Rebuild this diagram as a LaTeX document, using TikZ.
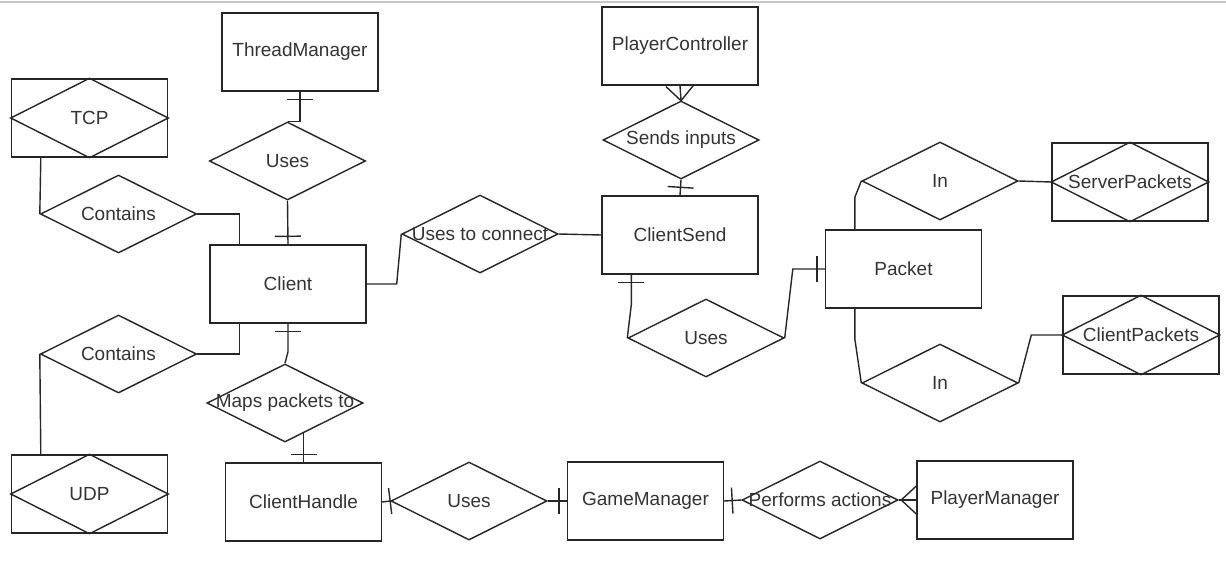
\documentclass[tikz,border=0pt]{standalone}
\usepackage{fontspec}
\setmainfont{Liberation Sans}
\usetikzlibrary{shapes.geometric,decorations.markings,calc}

\tikzset{
  entity/.style={draw, minimum width=78pt, minimum height=39pt, inner sep=0pt},
  rel/.style={diamond, draw, minimum width=78pt, minimum height=39pt, inner sep=0pt},
  one start/.style={postaction={decorate, decoration={markings,
      mark=at position 4pt with {\draw (0,-6.5pt) -- (0,6.5pt);}}}},
  one end/.style={postaction={decorate, decoration={markings,
      mark=at position -4pt with {\draw (0,-6.5pt) -- (0,6.5pt);}}}},
  many end/.style={postaction={decorate, decoration={markings,
      mark=at position -0.01pt with {\draw (0,-7pt) -- (-7.5pt,0) -- (0,7pt);}}}}
}

\begin{document}
\begin{tikzpicture}[x=0.5pt, y=-0.5pt, line width=0.7pt, color=black!85, text=black!80,
    font=\fontsize{9.5}{11}\selectfont]
    \useasboundingbox (0,0) rectangle (1226,573);
    \draw[gray!45, line width=1pt] (0,1.5) -- (1226,1.5);

    % entities
    \node[entity] (threadmgr) at (300,52) {ThreadManager};
    \node[entity] (client) at (288,284) {Client};
    \node[entity] (clienthandle) at (303.5,502) {ClientHandle};
    \node[entity] (gamemgr) at (645.5,501) {GameManager};
    \node[entity] (playermgr) at (995,500) {PlayerManager};
    \node[entity] (playerctrl) at (680,46) {PlayerController};
    \node[entity] (clientsend) at (680,235) {ClientSend};
    \node[entity] (packet) at (903.5,269) {Packet};

    % boxes with a diamond inside
    \node[entity] (tcp) at (89.5,118) {TCP};
    \node[entity] (udp) at (89.5,494) {UDP};
    \node[entity] (srvpk) at (1130,182) {ServerPackets};
    \node[entity] (clipk) at (1141,335) {ClientPackets};
    \foreach \n in {tcp,udp,srvpk,clipk}
        \draw (\n.west) -- (\n.north) -- (\n.east) -- (\n.south) -- cycle;

    % relationships
    \node[rel, label=center:Uses] (usesTM) at (287.5,161) {};
    \node[rel, label=center:Contains] (containsTCP) at (118.5,214) {};
    \node[rel, label=center:Contains] (containsUDP) at (118.5,354) {};
    \node[rel, label=center:{Maps packets to}] (maps) at (285,403) {};
    \node[rel, label=center:Uses] (usesGM) at (469,501) {};
    \node[rel, label=center:{Performs actions}] (performs) at (820,500) {};
    \node[rel, label=center:{Sends inputs}] (sends) at (681,140) {};
    \node[rel, label=center:{Uses to connect}] (connect) at (480,234) {};
    \node[rel, label=center:Uses] (usesPk) at (706,338) {};
    \node[rel, label=center:In] (inSrv) at (940,181) {};
    \node[rel, label=center:In] (inCli) at (940,383) {};

    % links around Client
    \draw[one start] (threadmgr.south) |- (usesTM.north);
    \draw[one end] (usesTM.south) -- (client.north);
    \draw ($(tcp.south west)+(30,0)$) -- (containsTCP.west);
    \draw (containsTCP.east) -| ($(client.north west)+(30,0)$);
    \draw (containsUDP.east) -| ($(client.south west)+(30,0)$);
    \draw (containsUDP.west) -- ($(udp.north west)+(30,0)$);
    \draw[one start] (client.south) -- ++(0,28) -- (maps.north);
    \draw[one end] (clienthandle.north |- maps.-59) -- (clienthandle.north);
    \draw (client.east) -- ++(30,0) -- (connect.west);

    % bottom row
    \draw[one start] (clienthandle.east) -- (usesGM.west);
    \draw[one end] (usesGM.east) -- (gamemgr.west);
    \draw[one start] (gamemgr.east) -- (performs.west);
    \draw[many end] (performs.east) -- (playermgr.west);

    % ClientSend and Packet
    \draw[many end] (sends.north) -- (playerctrl.south);
    \draw[one end] (sends.south) -- (clientsend.north);
    \draw (connect.east) -- (clientsend.west);
    \draw[one start] ($(clientsend.south west)+(30,0)$) -- ++(0,30) -- (usesPk.west);
    \draw[one end] (usesPk.east) -- ($(packet.west)+(-32,0)$) -- (packet.west);
    \draw ($(packet.north west)+(30,0)$) -- ++(0,-32) -- (inSrv.west);
    \draw (inSrv.east) -- (srvpk.west);
    \draw ($(packet.south west)+(30,0)$) -- ++(0,30) -- (inCli.west);
    \draw (inCli.east) -- ($(clipk.west)+(-31,0)$) -- (clipk.west);
\end{tikzpicture}
\end{document}
